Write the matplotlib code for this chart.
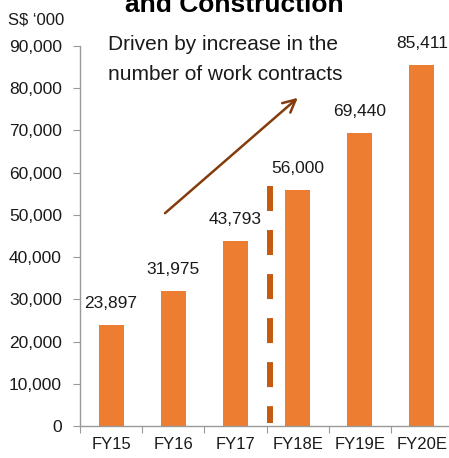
import matplotlib
matplotlib.use("Agg")
import matplotlib.pyplot as plt
from matplotlib.ticker import FuncFormatter

plt.rcParams['font.family'] = ['Liberation Sans', 'DejaVu Sans']
plt.rcParams['lines.scale_dashes'] = False

categories = ["FY15", "FY16", "FY17", "FY18E", "FY19E", "FY20E"]
values = [23897, 31975, 43793, 56000, 69440, 85411]
yticks = [0, 10000, 20000, 30000, 40000, 50000, 60000, 70000, 80000, 90000]

W, H = 449, 458
fig = plt.figure(figsize=(W / 100, H / 100), dpi=100)
ax = fig.add_axes([80 / W, 1 - 426 / H, 373 / W, 380 / H])

x = list(range(len(categories)))
bars = ax.bar(x, values, width=0.4, color="#ED7D31", zorder=2)
for xi, v in zip(x, values):
    ax.annotate(f"{v:,}", (xi, v), xytext=(0, 10), textcoords="offset points",
                ha="center", va="bottom", fontsize=12.5, color="#1a1a1a")

ax.set_xlim(-0.5, len(categories) - 0.5)
ax.set_ylim(0, 90000)
ax.set_yticks(yticks)
ax.yaxis.set_major_formatter(FuncFormatter(lambda v, p: f"{int(v):,}"))
ax.set_xticks([i - 0.5 for i in range(len(categories) + 1)], minor=False)
ax.set_xticklabels([])
ax.set_xticks(x, minor=True)
ax.set_xticklabels(categories, minor=True)
ax.tick_params(axis="x", which="minor", length=0, labelsize=12, pad=8, colors="#1a1a1a")
ax.tick_params(axis="x", which="major", length=5, color="#999999", direction="out")
ax.tick_params(axis="y", length=5, color="#999999", labelsize=12.5, pad=8, labelcolor="#1a1a1a")

for s in ["top", "right"]:
    ax.spines[s].set_visible(False)
for s in ["left", "bottom"]:
    ax.spines[s].set_color("#999999")
    ax.spines[s].set_linewidth(1)

# dashed separator
ax.plot([2.555, 2.555], [56800, 700], color="#C55A11", linewidth=4.3,
        dashes=(18, 13.7), solid_capstyle="butt", dash_capstyle="butt", zorder=3)

# arrow
ax.annotate("", xy=(3.037, 78158), xytext=(0.834, 49974),
            arrowprops=dict(arrowstyle="->,head_length=0.9,head_width=0.45",
                            color="#843C0C", lw=1.8), zorder=4)

fig.text(108 / W, 1 - 45 / H, "Driven by increase in the", fontsize=15,
         ha="left", va="center", color="#1a1a1a")
fig.text(108 / W, 1 - 75 / H, "number of work contracts", fontsize=15,
         ha="left", va="center", color="#1a1a1a")

fig.text(8 / W, 1 - 20 / H, "S$ \u2018000", fontsize=12, ha="left", va="center", color="#1a1a1a")
fig.text(234 / W, 1 - 12 / H, "and Construction", fontsize=19, fontweight="bold",
         ha="center", va="baseline", color="#000000")

fig.savefig("out.png", dpi=100)
